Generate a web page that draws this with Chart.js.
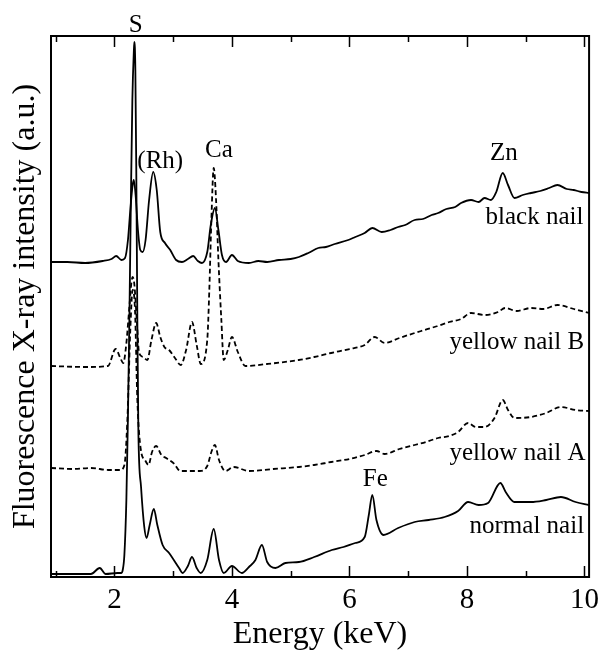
<!DOCTYPE html>
<html>
<head>
<meta charset="utf-8">
<script src="https://cdn.jsdelivr.net/npm/chart.js@4.4.0/dist/chart.umd.min.js"></script>
<style>
	html, body { margin: 0; padding: 0; background: #fff; }
</style>
</head>
<body>
<canvas id="xrfChart" width="605" height="652"></canvas>
<script>
// energies in keV, intensities in arbitrary units (spectra already offset)
const blackE = [0.92, 1.2, 1.5, 1.8, 1.95, 2.03, 2.12, 2.18, 2.23, 2.27, 2.31, 2.33, 2.36, 2.40, 2.44, 2.48, 2.53, 2.59, 2.66, 2.72, 2.78, 2.86, 2.95, 3.05, 3.15, 3.25, 3.34, 3.42, 3.49, 3.58, 3.64, 3.71, 3.77, 3.83, 3.90, 4.00, 4.10, 4.29, 4.45, 4.6, 4.8, 5.0, 5.14, 5.3, 5.47, 5.6, 5.75, 5.98, 6.1, 6.26, 6.39, 6.55, 6.7, 6.83, 6.95, 7.11, 7.25, 7.4, 7.51, 7.65, 7.8, 7.90, 8.07, 8.2, 8.3, 8.41, 8.50, 8.61, 8.70, 8.81, 8.95, 9.09, 9.25, 9.4, 9.54, 9.7, 9.82, 9.95, 10.08];
const blackI = [315, 315, 314, 316, 318, 321, 317, 319, 337, 367, 392, 397, 382, 347, 327, 325, 337, 377, 405, 387, 345, 334, 327, 317, 315, 318, 321, 316, 314, 325, 352, 369, 347, 322, 315, 322, 316, 314, 316, 315, 317, 318, 320, 324, 329, 330, 333, 337, 340, 344, 349, 345, 347, 350, 352, 357, 358, 362, 364, 368, 370, 374, 377, 375, 379, 377, 385, 404, 392, 379, 382, 384, 386, 389, 392, 388, 387, 385, 384];

const yellowBE = [0.92, 1.5, 1.89, 2.02, 2.10, 2.15, 2.20, 2.25, 2.29, 2.31, 2.34, 2.38, 2.42, 2.49, 2.56, 2.63, 2.71, 2.78, 2.85, 2.93, 3.03, 3.13, 3.22, 3.32, 3.40, 3.47, 3.58, 3.615, 3.65, 3.69, 3.73, 3.77, 3.82, 3.86, 3.93, 4.00, 4.10, 4.23, 4.6, 5.14, 5.4, 5.69, 6.0, 6.26, 6.43, 6.60, 6.85, 7.11, 7.28, 7.5, 7.7, 7.9, 8.07, 8.3, 8.53, 8.65, 8.85, 9.09, 9.3, 9.54, 9.82, 10.08];
const yellowBI = [211, 210, 211, 228, 219, 214, 232, 267, 295, 300, 292, 257, 224, 220, 217, 237, 254, 240, 230, 227, 219, 212, 227, 255, 232, 213, 237, 287, 357, 409, 377, 317, 257, 217, 227, 240, 225, 211, 213, 217, 220, 224, 228, 232, 240, 234, 239, 244, 247, 251, 255, 258, 264, 262, 265, 269, 266, 269, 268, 272, 268, 264];

const yellowAE = [0.92, 1.3, 1.6, 1.9, 2.10, 2.17, 2.22, 2.27, 2.31, 2.35, 2.39, 2.45, 2.52, 2.58, 2.64, 2.71, 2.80, 2.88, 3.02, 3.12, 3.45, 3.58, 3.65, 3.71, 3.78, 3.89, 4.03, 4.29, 4.7, 5.14, 5.4, 5.69, 6.0, 6.26, 6.46, 6.60, 6.85, 7.11, 7.3, 7.51, 7.7, 7.85, 8.02, 8.15, 8.30, 8.47, 8.61, 8.70, 8.81, 9.09, 9.35, 9.60, 9.85, 10.08];
const yellowAI = [109, 108, 109, 107, 107, 112, 157, 247, 287, 267, 177, 127, 117, 112, 125, 131, 122, 119, 113, 106, 106, 111, 125, 132, 117, 106, 110, 106, 108, 110, 112, 115, 118, 122, 126, 123, 128, 132, 135, 139, 141, 145, 154, 150, 150, 159, 177, 167, 159, 160, 164, 170, 167, 166];

const normalE = [0.92, 1.3, 1.6, 1.75, 1.85, 2.05, 2.114, 2.141, 2.169, 2.203, 2.229, 2.254, 2.280, 2.305, 2.331, 2.339, 2.356, 2.373, 2.390, 2.407, 2.453, 2.508, 2.547, 2.60, 2.67, 2.73, 2.82, 2.93, 3.10, 3.16, 3.25, 3.32, 3.40, 3.47, 3.58, 3.69, 3.78, 3.86, 4.00, 4.17, 4.29, 4.40, 4.51, 4.60, 4.74, 4.91, 5.14, 5.4, 5.70, 5.9, 6.10, 6.26, 6.33, 6.39, 6.46, 6.58, 6.83, 7.11, 7.35, 7.62, 7.85, 8.02, 8.2, 8.36, 8.57, 8.66, 8.81, 9.09, 9.35, 9.60, 9.85, 10.08];
const normalI = [3, 3, 3, 9, 3, 4, 4, 7, 22, 77, 157, 257, 377, 477, 527, 535, 507, 397, 257, 147, 90, 50, 39, 52, 68, 52, 32, 24, 9, 4, 11, 20, 9, 4, 17, 48, 17, 4, 11, 4, 10, 17, 32, 15, 9, 14, 15, 20, 27, 30, 34, 40, 62, 82, 57, 42, 49, 55, 57, 60, 66, 75, 72, 74, 94, 85, 75, 75, 77, 80, 75, 72];

const majorTicks = [2, 4, 6, 8, 10];
const minorTicks = [1, 3, 5, 7, 9];

// peak and sample labels, placed in data coordinates
const noteText = ['S', '(Rh)', 'Ca', 'Zn', 'Fe', 'black nail', 'yellow nail B', 'yellow nail A', 'normal nail'];
const noteE = [2.36, 2.78, 3.78, 8.63, 6.44, 9.15, 8.85, 8.86, 9.02];
const noteI = [552, 416, 427, 424, 98, 360, 235, 124, 51];

const serif = '"Liberation Serif", "Times New Roman", serif';

function toPoints(es, is) {
	return es.map(function(e, i) { return { x: e, y: is[i] }; });
}

function line(label, es, is, dashed) {
	return {
		label: label,
		data: toPoints(es, is),
		borderColor: '#000',
		borderWidth: 1.8,
		borderDash: dashed ? [5, 3] : [],
		pointRadius: 0,
		cubicInterpolationMode: 'monotone',
		fill: false
	};
}

// frame, inward ticks and text labels
const framePlugin = {
	id: 'frame',
	afterDatasetsDraw: function(chart) {
		const ctx = chart.ctx;
		const a = chart.chartArea;
		const x = chart.scales.x;
		const y = chart.scales.y;
		ctx.save();
		ctx.strokeStyle = '#000';
		ctx.lineWidth = 2;
		ctx.setLineDash([]);
		ctx.strokeRect(a.left, a.top, a.right - a.left, a.bottom - a.top);
		ctx.lineWidth = 1.5;
		majorTicks.concat(minorTicks).forEach(function(v) {
			const px = Math.round(x.getPixelForValue(v)) + 0.5;
			const len = majorTicks.includes(v) ? 11 : 6;
			ctx.beginPath();
			ctx.moveTo(px, a.bottom);
			ctx.lineTo(px, a.bottom - len);
			ctx.moveTo(px, a.top);
			ctx.lineTo(px, a.top + len);
			ctx.stroke();
		});
		ctx.fillStyle = '#000';
		ctx.font = '25px ' + serif;
		ctx.textAlign = 'center';
		ctx.textBaseline = 'middle';
		noteText.forEach(function(t, i) {
			ctx.fillText(t, x.getPixelForValue(noteE[i]), y.getPixelForValue(noteI[i]));
		});
		ctx.restore();
	}
};

const chart = new Chart(document.getElementById('xrfChart').getContext('2d'), {
	type: 'line',
	data: {
		datasets: [
			line('black nail', blackE, blackI, false),
			line('yellow nail B', yellowBE, yellowBI, true),
			line('yellow nail A', yellowAE, yellowAI, true),
			line('normal nail', normalE, normalI, false)
		]
	},
	options: {
		responsive: false,
		animation: false,
		layout: {
			padding: { top: 36, right: 13, left: 0, bottom: 0 }
		},
		plugins: {
			legend: { display: false },
			tooltip: { enabled: false }
		},
		scales: {
			x: {
				type: 'linear',
				min: 0.92,
				max: 10.08,
				grid: { display: false, drawTicks: false },
				border: { display: false },
				afterBuildTicks: function(scale) {
					scale.ticks = majorTicks.map(function(v) { return { value: v }; });
				},
				afterFit: function(scale) { scale.height = 75; },
				ticks: {
					color: '#000',
					padding: 6,
					maxRotation: 0,
					font: { family: serif, size: 29 }
				},
				title: {
					display: true,
					text: 'Energy (keV)',
					color: '#000',
					padding: { top: 0, bottom: -2 },
					font: { family: serif, size: 32 }
				}
			},
			y: {
				min: 0,
				max: 541,
				grid: { display: false, drawTicks: false },
				border: { display: false },
				ticks: { display: false },
				afterFit: function(scale) { scale.width = 51; },
				title: {
					display: true,
					text: 'Fluorescence X-ray intensity (a.u.)',
					color: '#000',
					padding: { top: 6, bottom: 0 },
					font: { family: serif, size: 32 }
				}
			}
		}
	},
	plugins: [framePlugin]
});
</script>
</body>
</html>
